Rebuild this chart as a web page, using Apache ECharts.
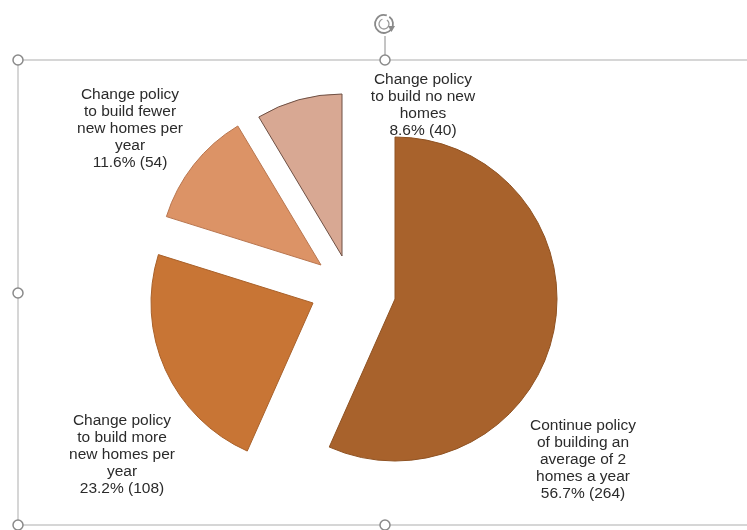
<!DOCTYPE html>
<html>
<head>
<meta charset="utf-8">
<script src="https://cdn.jsdelivr.net/npm/echarts@6/dist/echarts.min.js"></script>
<style>
html,body{margin:0;padding:0;background:#fff;}
#main{width:747px;height:530px;}
</style>
</head>
<body>
<div id="main"></div>
<script>
// ---- data ----
const categories = [
  'Continue policy\nof building an\naverage of 2\nhomes a year',
  'Change policy\nto build more\nnew homes per\nyear',
  'Change policy\nto build fewer\nnew homes per\nyear',
  'Change policy\nto build no new\nhomes'
];
const values = [264, 108, 54, 40];

// ---- styles / layout ----
const colors = ['#A8622C', '#C87535', '#DC9366', '#D8A893'];
const borders = ['#8f5222', '#a9612a', '#b9764f', '#6e5044'];
const centers = [[395, 299], [313, 303], [321, 265], [342, 256]];
const labelPos = [[583, 460], [122, 455], [130, 129], [423, 105]];
const R = 162;

const total = values.reduce((a, b) => a + b, 0);

const series = values.map((_, i) => ({
  type: 'pie',
  silent: true,
  startAngle: 90,
  clockwise: true,
  center: centers[i],
  radius: [0, R],
  animation: false,
  labelLine: { show: false },
  label: {
    position: 'outside',
    color: '#2b2b2b',
    fontFamily: 'Liberation Sans, Arial, sans-serif',
    fontSize: 15.5,
    lineHeight: 17,
    align: 'center',
    formatter: p => p.name + '\n' + (p.value / total * 100).toFixed(1) + '% (' + p.value + ')'
  },
  labelLayout: () => ({
    x: labelPos[i][0], y: labelPos[i][1], align: 'center', verticalAlign: 'middle'
  }),
  data: values.map((v, j) => ({
    name: categories[j],
    value: v,
    itemStyle: j === i
      ? { color: colors[i], borderColor: borders[i], borderWidth: 1 }
      : { color: 'rgba(0,0,0,0)', borderWidth: 0 },
    label: { show: j === i }
  }))
}));

const frameColor = '#c9c9c9';
const handle = (x, y) => ({
  type: 'circle', shape: { cx: x, cy: y, r: 5 },
  style: { fill: '#fff', stroke: '#8a8a8a', lineWidth: 1.5 }, z: 100
});

const chart = echarts.init(document.getElementById('main'), null, { renderer: 'canvas' });
chart.setOption({
  backgroundColor: '#ffffff',
  series: series,
  graphic: [
    { type: 'line', shape: { x1: 18, y1: 60, x2: 747, y2: 60 }, style: { stroke: frameColor, lineWidth: 1.5 }, z: 90 },
    { type: 'line', shape: { x1: 18, y1: 60, x2: 18, y2: 530 }, style: { stroke: frameColor, lineWidth: 1.5 }, z: 90 },
    { type: 'line', shape: { x1: 18, y1: 525, x2: 747, y2: 525 }, style: { stroke: frameColor, lineWidth: 1.5 }, z: 90 },
    { type: 'line', shape: { x1: 385, y1: 36, x2: 385, y2: 56 }, style: { stroke: '#8a8a8a', lineWidth: 1 }, z: 90 },
    handle(18, 60), handle(385, 60), handle(18, 293), handle(18, 525), handle(385, 525),
    { type: 'arc', shape: { cx: 384, cy: 24, r: 9, startAngle: -Math.PI * 0.3, endAngle: Math.PI * 1.6, clockwise: true },
      style: { stroke: '#8a8a8a', lineWidth: 1.8, fill: null }, z: 100 },
    { type: 'arc', shape: { cx: 384, cy: 24, r: 5, startAngle: -Math.PI * 0.3, endAngle: Math.PI * 1.4, clockwise: true },
      style: { stroke: '#9a9a9a', lineWidth: 1.3, fill: null }, z: 100 },
    { type: 'polygon', shape: { points: [[388, 26], [395, 26], [391.5, 32]] },
      style: { fill: '#8a8a8a' }, z: 100 }
  ]
});
</script>
</body>
</html>
